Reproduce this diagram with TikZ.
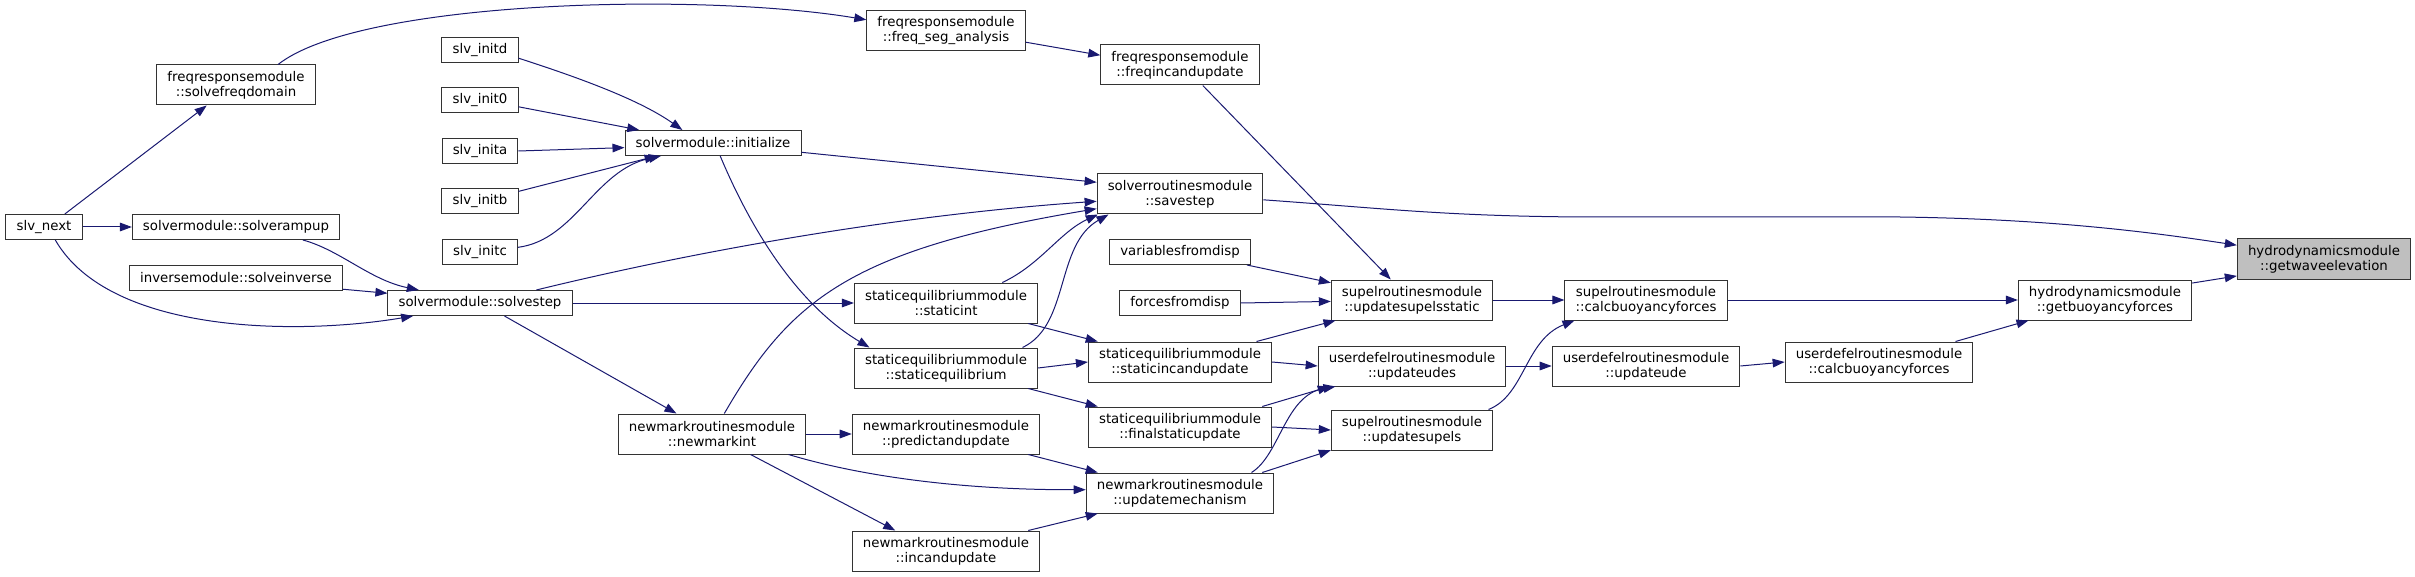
\documentclass[tikz,border=0pt]{standalone}
\usepackage{fontspec}
\setmainfont{DejaVu Sans}
\usetikzlibrary{arrows.meta}
\definecolor{edgeblue}{HTML}{191970}
\definecolor{rootgrey}{HTML}{BFBFBF}

\begin{document}
\begin{tikzpicture}[x=0.75pt,y=-0.75pt,>={Triangle[length=9pt,width=6.5pt]},
  fn/.style={draw=black!80,line width=0.75pt,fill=white,align=center,
    font=\fontsize{10}{11.25}\selectfont,inner xsep=8pt,inner ysep=4pt,minimum height=18.75pt},
  fnn/.style={fn,minimum height=30pt},
  rootfn/.style={fnn,fill=rootgrey},
  call/.style={->,edgeblue,line width=0.75pt}]
\useasboundingbox (0,0) rectangle (2415,577);
\node[fn]  (slvnext) at (44,227) {slv\_next};
\node[fnn] (solvefreqdomain) at (236,85) {freqresponsemodule\\::solvefreqdomain};
\node[fn]  (solverampup) at (236,227) {solvermodule::solverampup};
\node[fn]  (solveinverse) at (236,278) {inversemodule::solveinverse};
\node[fn]  (initd) at (480,50) {slv\_initd};
\node[fn]  (init0) at (480,100) {slv\_init0};
\node[fn]  (inita) at (480,151) {slv\_inita};
\node[fn]  (initb) at (480,201) {slv\_initb};
\node[fn]  (initc) at (480,252) {slv\_initc};
\node[fn]  (solvestep) at (480,303) {solvermodule::solvestep};
\node[fn]  (initialize) at (713,143) {solvermodule::initialize};
\node[fnn] (newmarkint) at (712,434) {newmarkroutinesmodule\\::newmarkint};
\node[fnn] (freqseg) at (946,31) {freqresponsemodule\\::freq\_seg\_analysis};
\node[fnn] (staticint) at (946,303) {staticequilibriummodule\\::staticint};
\node[fnn] (staticeq) at (946,368) {staticequilibriummodule\\::staticequilibrium};
\node[fnn] (predict) at (946,434) {newmarkroutinesmodule\\::predictandupdate};
\node[fnn] (incand) at (946,551) {newmarkroutinesmodule\\::incandupdate};
\node[fnn] (freqinc) at (1180,65) {freqresponsemodule\\::freqincandupdate};
\node[fnn] (savestep) at (1180,194) {solverroutinesmodule\\::savestep};
\node[fn]  (varfromdisp) at (1180,252) {variablesfromdisp};
\node[fn]  (forcesfromdisp) at (1180,303) {forcesfromdisp};
\node[fnn] (staticinc) at (1180,362) {staticequilibriummodule\\::staticincandupdate};
\node[fnn] (finalstatic) at (1180,427) {staticequilibriummodule\\::finalstaticupdate};
\node[fnn] (updmech) at (1180,493) {newmarkroutinesmodule\\::updatemechanism};
\node[fnn] (updsupelsstatic) at (1412,300) {supelroutinesmodule\\::updatesupelsstatic};
\node[fnn] (updateudes) at (1412,366) {userdefelroutinesmodule\\::updateudes};
\node[fnn] (updsupels) at (1412,430) {supelroutinesmodule\\::updatesupels};
\node[fnn] (calcsupel) at (1646,300) {supelroutinesmodule\\::calcbuoyancyforces};
\node[fnn] (updateude) at (1646,366) {userdefelroutinesmodule\\::updateude};
\node[fnn] (calcuser) at (1879,362) {userdefelroutinesmodule\\::calcbuoyancyforces};
\node[fnn] (getbuoy) at (2105,300) {hydrodynamicsmodule\\::getbuoyancyforces};
\node[rootfn] (getwave) at (2324,259) {hydrodynamicsmodule\\::getwaveelevation};

\draw[call] (slvnext.32) -- (solvefreqdomain.-145);
\draw[call] (slvnext.east) -- (solverampup.west);
\draw[call] (slvnext.-49) .. controls (110,335) and (300,335) .. (solvestep.-169);
\draw[call] (solvefreqdomain.26) .. controls (360,0) and (700,-8) .. (freqseg.172);
\draw[call] (freqseg.-8) -- (freqinc.173);
\draw[call] (freqinc.-42) -- (updsupelsstatic.136);
\draw[call] (solverampup.-11) .. controls (340,250) and (370,280) .. (solvestep.168);
\draw[call] (solveinverse.-6) -- (solvestep.174);
\draw[call] (initd.-12) .. controls (580,78) and (640,100) .. (initialize.157);
\draw[call] (init0.-10) -- (initialize.170);
\draw[call] (inita.east) -- (initialize.183);
\draw[call] (initb.14) -- (initialize.-167);
\draw[call] (initc.7) .. controls (575,240) and (595,170) .. (initialize.-166);
\draw[call] (solvestep.13) .. controls (700,250) and (900,215) .. (savestep.-175);
\draw[call] (solvestep.east) -- (staticint.west);
\draw[call] (solvestep.-28) -- (newmarkint.150);
\draw[call] (initialize.-6) -- (savestep.172);
\draw[call] (initialize.-61) .. controls (745,215) and (790,300) .. (staticeq.165);
\draw[call] (newmarkint.59) .. controls (790,300) and (850,250) .. (savestep.-170);
\draw[call] (newmarkint.east) -- (predict.west);
\draw[call] (newmarkint.-15) .. controls (860,476) and (960,490) .. (updmech.178);
\draw[call] (newmarkint.-28) -- (incand.158);
\draw[call] (staticint.20) .. controls (1040,265) and (1060,232) .. (savestep.-166);
\draw[call] (staticint.-14) -- (staticinc.166);
\draw[call] (staticeq.15) .. controls (1070,325) and (1055,245) .. (savestep.-164);
\draw[call] (staticeq.east) -- (staticinc.west);
\draw[call] (staticeq.-14) -- (finalstatic.166);
\draw[call] (predict.-14) -- (updmech.166);
\draw[call] (incand.14) -- (updmech.-166);
\draw[call] (savestep.-4) .. controls (1380,208) and (1450,217) .. (1600,217) -- (1900,217)
  .. controls (2050,219) and (2150,232) .. (getwave.171);
\draw[call] (varfromdisp.-11) -- (updsupelsstatic.168);
\draw[call] (forcesfromdisp.east) -- (updsupelsstatic.181);
\draw[call] (staticinc.15) -- (updsupelsstatic.-165);
\draw[call] (staticinc.east) -- (updateudes.west);
\draw[call] (finalstatic.14) -- (updateudes.-166);
\draw[call] (finalstatic.east) -- (updsupels.west);
\draw[call] (updmech.16) .. controls (1280,455) and (1285,395) .. (updateudes.-165);
\draw[call] (updmech.14) -- (updsupels.-166);
\draw[call] (updsupelsstatic.east) -- (calcsupel.west);
\draw[call] (updateudes.east) -- (updateude.west);
\draw[call] (updsupels.15) .. controls (1525,395) and (1525,340) .. (calcsupel.-164);
\draw[call] (updateude.east) -- (calcuser.west);
\draw[call] (calcsupel.east) -- (getbuoy.west);
\draw[call] (calcuser.15) -- (getbuoy.-165);
\draw[call] (getbuoy.11) -- (getwave.-169);
\end{tikzpicture}
\end{document}
